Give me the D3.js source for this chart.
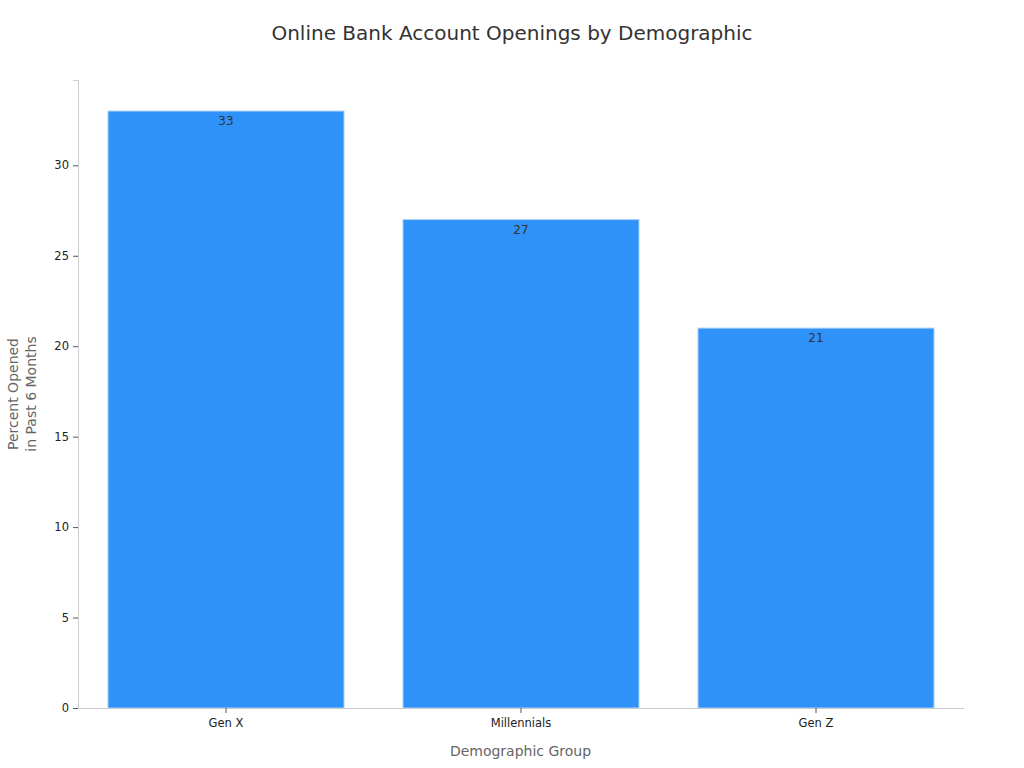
<!DOCTYPE html>
<html>
<head>
<meta charset="utf-8">
<script src="https://cdn.jsdelivr.net/npm/d3@7"></script>
<style>
  body { margin: 0; background: #fff; }
  svg { font-family: "DejaVu Sans", sans-serif; }
</style>
</head>
<body>
<div id="chart"></div>
<script>
const categories = ['Gen X', 'Millennials', 'Gen Z'];
const values = [33, 27, 21];
const yTicks = [0, 5, 10, 15, 20, 25, 30];

const width = 1024, height = 768;
const margin = { top: 80, right: 61, bottom: 60, left: 78 };

const svg = d3.select('#chart').append('svg')
  .attr('width', width)
  .attr('height', height);

const x = d3.scaleBand()
  .domain(categories)
  .range([margin.left + 0.5, width - margin.right + 0.5])
  .paddingInner(0.2)
  .paddingOuter(0.1);

const y = d3.scaleLinear()
  .domain([0, d3.max(values) * 1.052])
  .range([height - margin.bottom, margin.top]);

// title
svg.append('text')
  .attr('x', width / 2)
  .attr('y', 40)
  .attr('text-anchor', 'middle')
  .attr('font-size', 20)
  .attr('fill', '#333')
  .text('Online Bank Account Openings by Demographic');

// bars
svg.append('g')
  .selectAll('rect').data(values)
  .enter().append('rect')
  .attr('x', (_, i) => x(categories[i]))
  .attr('y', d => y(d))
  .attr('width', x.bandwidth())
  .attr('height', d => y(0) - y(d))
  .attr('fill', '#2f92f8')
  .attr('stroke', '#a9d0f8')
  .attr('stroke-width', 1);

// value labels
svg.append('g')
  .selectAll('text').data(values)
  .enter().append('text')
  .attr('x', (_, i) => x(categories[i]) + x.bandwidth() / 2)
  .attr('y', d => y(d) + 14)
  .attr('text-anchor', 'middle')
  .attr('font-size', 12)
  .attr('fill', '#333')
  .text(d => String(d));

// y axis
const yAxis = svg.append('g')
  .attr('transform', `translate(${margin.left}, 0)`)
  .call(d3.axisLeft(y).tickValues(yTicks).tickSize(5).tickPadding(4));
yAxis.select('.domain').attr('stroke', '#ccc');
yAxis.selectAll('.tick line').attr('stroke', '#555');
yAxis.selectAll('.tick text')
  .attr('font-size', 11.5)
  .attr('fill', '#222')
  .attr('font-family', '"DejaVu Sans", sans-serif');

// x axis
const xAxis = svg.append('g')
  .attr('transform', `translate(0, ${height - margin.bottom})`)
  .call(d3.axisBottom(x).tickSize(5).tickSizeOuter(0).tickPadding(6));
xAxis.select('.domain').attr('stroke', '#ccc');
xAxis.selectAll('.tick line').attr('stroke', '#555');
xAxis.selectAll('.tick text')
  .attr('font-size', 11.5)
  .attr('fill', '#222')
  .attr('font-family', '"DejaVu Sans", sans-serif');

// axis titles
svg.append('text')
  .attr('x', (margin.left + width - margin.right) / 2)
  .attr('y', 756)
  .attr('text-anchor', 'middle')
  .attr('font-size', 14)
  .attr('fill', '#666')
  .text('Demographic Group');

const yMid = (margin.top + height - margin.bottom) / 2;
const yTitle = svg.append('text')
  .attr('transform', `translate(18, ${yMid}) rotate(-90)`)
  .attr('text-anchor', 'middle')
  .attr('font-size', 14)
  .attr('fill', '#666');
yTitle.append('tspan').attr('x', 0).attr('dy', 0).text('Percent Opened');
yTitle.append('tspan').attr('x', 0).attr('dy', 18).text('in Past 6 Months');
</script>
</body>
</html>
